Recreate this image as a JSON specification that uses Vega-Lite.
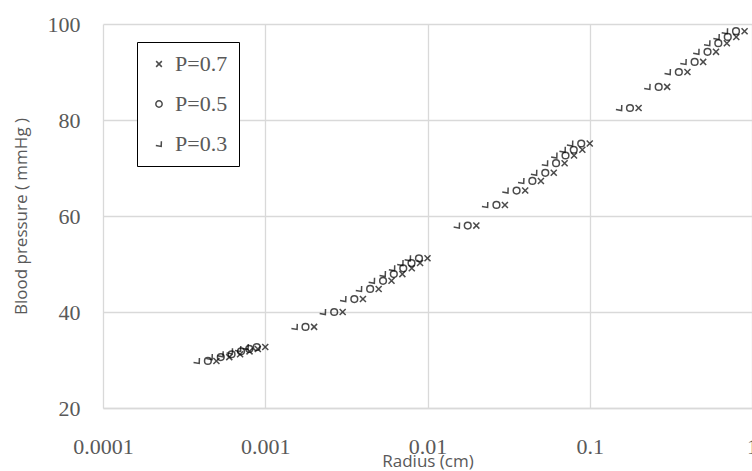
{
  "$schema": "https://vega.github.io/schema/vega-lite/v6.json",
  "width": 649,
  "height": 384,
  "autosize": {"type": "none"},
  "padding": {"left": 103, "top": 24, "right": 0, "bottom": 63},
  "background": "white",
  "data": {"values": [
    {"p":"P=0.7","r":0.0005,"bp":29.8},{"p":"P=0.7","r":0.0006,"bp":30.6},{"p":"P=0.7","r":0.0007,"bp":31.2},{"p":"P=0.7","r":0.0008,"bp":31.8},{"p":"P=0.7","r":0.0009,"bp":32.3},{"p":"P=0.7","r":0.001,"bp":32.7},
    {"p":"P=0.7","r":0.002,"bp":36.9},{"p":"P=0.7","r":0.003,"bp":40.0},{"p":"P=0.7","r":0.004,"bp":42.7},{"p":"P=0.7","r":0.005,"bp":44.8},{"p":"P=0.7","r":0.006,"bp":46.5},{"p":"P=0.7","r":0.007,"bp":47.9},{"p":"P=0.7","r":0.008,"bp":49.1},{"p":"P=0.7","r":0.009,"bp":50.2},{"p":"P=0.7","r":0.01,"bp":51.2},
    {"p":"P=0.7","r":0.02,"bp":58.0},{"p":"P=0.7","r":0.03,"bp":62.3},{"p":"P=0.7","r":0.04,"bp":65.3},{"p":"P=0.7","r":0.05,"bp":67.3},{"p":"P=0.7","r":0.06,"bp":69.0},{"p":"P=0.7","r":0.07,"bp":71.0},{"p":"P=0.7","r":0.08,"bp":72.6},{"p":"P=0.7","r":0.09,"bp":73.8},{"p":"P=0.7","r":0.1,"bp":75.1},
    {"p":"P=0.7","r":0.2,"bp":82.5},{"p":"P=0.7","r":0.3,"bp":86.9},{"p":"P=0.7","r":0.4,"bp":90.0},{"p":"P=0.7","r":0.5,"bp":92.1},{"p":"P=0.7","r":0.6,"bp":94.2},{"p":"P=0.7","r":0.7,"bp":96.0},{"p":"P=0.7","r":0.8,"bp":97.3},{"p":"P=0.7","r":0.9,"bp":98.5},

    {"p":"P=0.5","r":0.000443,"bp":29.8},{"p":"P=0.5","r":0.000532,"bp":30.6},{"p":"P=0.5","r":0.00062,"bp":31.2},{"p":"P=0.5","r":0.000709,"bp":31.8},{"p":"P=0.5","r":0.000797,"bp":32.3},{"p":"P=0.5","r":0.000886,"bp":32.7},
    {"p":"P=0.5","r":0.00177,"bp":36.9},{"p":"P=0.5","r":0.00266,"bp":40.0},{"p":"P=0.5","r":0.00354,"bp":42.7},{"p":"P=0.5","r":0.00443,"bp":44.8},{"p":"P=0.5","r":0.00532,"bp":46.5},{"p":"P=0.5","r":0.0062,"bp":47.9},{"p":"P=0.5","r":0.00709,"bp":49.1},{"p":"P=0.5","r":0.00797,"bp":50.2},{"p":"P=0.5","r":0.00886,"bp":51.2},
    {"p":"P=0.5","r":0.0177,"bp":58.0},{"p":"P=0.5","r":0.0266,"bp":62.3},{"p":"P=0.5","r":0.0354,"bp":65.3},{"p":"P=0.5","r":0.0443,"bp":67.3},{"p":"P=0.5","r":0.0532,"bp":69.0},{"p":"P=0.5","r":0.062,"bp":71.0},{"p":"P=0.5","r":0.0709,"bp":72.6},{"p":"P=0.5","r":0.0797,"bp":73.8},{"p":"P=0.5","r":0.0886,"bp":75.1},
    {"p":"P=0.5","r":0.177,"bp":82.5},{"p":"P=0.5","r":0.266,"bp":86.9},{"p":"P=0.5","r":0.354,"bp":90.0},{"p":"P=0.5","r":0.443,"bp":92.1},{"p":"P=0.5","r":0.532,"bp":94.2},{"p":"P=0.5","r":0.62,"bp":96.0},{"p":"P=0.5","r":0.709,"bp":97.3},{"p":"P=0.5","r":0.797,"bp":98.5},

    {"p":"P=0.3","r":0.000379,"bp":29.8},{"p":"P=0.3","r":0.000455,"bp":30.6},{"p":"P=0.3","r":0.000531,"bp":31.2},{"p":"P=0.3","r":0.000606,"bp":31.8},{"p":"P=0.3","r":0.000682,"bp":32.3},{"p":"P=0.3","r":0.000758,"bp":32.7},
    {"p":"P=0.3","r":0.00152,"bp":36.9},{"p":"P=0.3","r":0.00227,"bp":40.0},{"p":"P=0.3","r":0.00303,"bp":42.7},{"p":"P=0.3","r":0.00379,"bp":44.8},{"p":"P=0.3","r":0.00455,"bp":46.5},{"p":"P=0.3","r":0.00531,"bp":47.9},{"p":"P=0.3","r":0.00606,"bp":49.1},{"p":"P=0.3","r":0.00682,"bp":50.2},{"p":"P=0.3","r":0.00758,"bp":51.2},
    {"p":"P=0.3","r":0.0152,"bp":58.0},{"p":"P=0.3","r":0.0227,"bp":62.3},{"p":"P=0.3","r":0.0303,"bp":65.3},{"p":"P=0.3","r":0.0379,"bp":67.3},{"p":"P=0.3","r":0.0455,"bp":69.0},{"p":"P=0.3","r":0.0531,"bp":71.0},{"p":"P=0.3","r":0.0606,"bp":72.6},{"p":"P=0.3","r":0.0682,"bp":73.8},{"p":"P=0.3","r":0.0758,"bp":75.1},
    {"p":"P=0.3","r":0.152,"bp":82.5},{"p":"P=0.3","r":0.227,"bp":86.9},{"p":"P=0.3","r":0.303,"bp":90.0},{"p":"P=0.3","r":0.379,"bp":92.1},{"p":"P=0.3","r":0.455,"bp":94.2},{"p":"P=0.3","r":0.531,"bp":96.0},{"p":"P=0.3","r":0.606,"bp":97.3},{"p":"P=0.3","r":0.682,"bp":98.5}
  ]},
  "mark": {"type": "point", "filled": false, "color": "black", "strokeWidth": 1.5, "size": 45, "clip": false},
  "encoding": {
    "x": {
      "field": "r", "type": "quantitative",
      "scale": {"type": "log", "domain": [0.0001, 1], "nice": false},
      "axis": {
        "values": [0.0001, 0.001, 0.01, 0.1, 1],
        "format": "~g",
        "title": "Radius (cm)",
        "titleFont": "Open Sans", "titleFontSize": 17, "titleFontWeight": "normal", "titleColor": "#595959",
        "titlePadding": -4,
        "labelFont": "Liberation Serif", "labelFontSize": 22, "labelColor": "#595959",
        "labelPadding": 28, "labelFlush": false, "labelOverlap": false,
        "ticks": false, "domain": true, "domainColor": "#d9d9d9", "domainWidth": 1.3,
        "grid": true, "gridColor": "#d9d9d9", "gridWidth": 1.3
      }
    },
    "y": {
      "field": "bp", "type": "quantitative",
      "scale": {"domain": [20, 100], "nice": false, "zero": false},
      "axis": {
        "values": [20, 40, 60, 80, 100],
        "title": "Blood pressure ( mmHg )",
        "titleFont": "Open Sans", "titleFontSize": 17, "titleFontWeight": "normal", "titleColor": "#595959",
        "titlePadding": 17,
        "labelFont": "Liberation Serif", "labelFontSize": 22, "labelColor": "#595959",
        "labelPadding": 23,
        "ticks": false, "domain": false,
        "grid": true, "gridColor": "#d9d9d9", "gridWidth": 1.3
      }
    },
    "shape": {
      "field": "p", "type": "nominal",
      "scale": {
        "domain": ["P=0.7", "P=0.5", "P=0.3"],
        "range": ["M -0.9 -0.9 L 0.9 0.9 M -0.9 0.9 L 0.9 -0.9", "circle", "M -1 0.45 L 0.7 0.75 L 0.75 -0.9"]
      },
      "legend": {
        "title": null,
        "orient": "none",
        "legendX": 34,
        "legendY": 18,
        "direction": "vertical",
        "strokeColor": "black",
        "fillColor": "white",
        "padding": 11,
        "rowPadding": 18,
        "symbolSize": 40,
        "symbolStrokeWidth": 1.5,
        "symbolStrokeColor": "black",
        "symbolOffset": 0,
        "labelOffset": 5,
        "labelFont": "Liberation Serif",
        "labelFontSize": 22,
        "labelColor": "#595959"
      }
    }
  },
  "config": {"view": {"stroke": null}}
}
